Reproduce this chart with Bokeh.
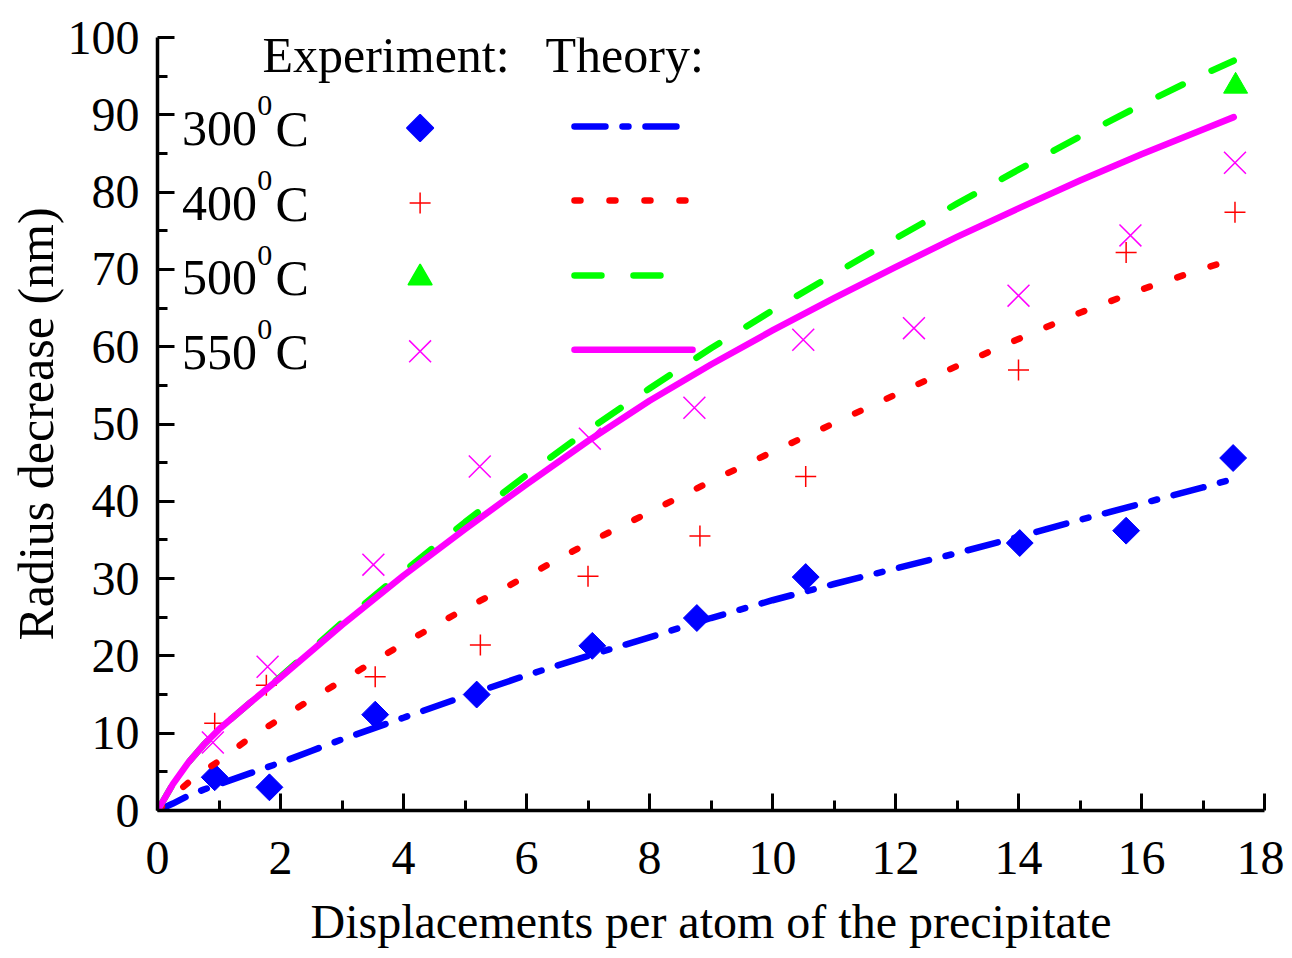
import numpy as np
from bokeh.plotting import figure
from bokeh.models import Range1d, FixedTicker
from bokeh.embed import file_html
from bokeh.resources import INLINE
from bokeh.core.properties import value

# ---------------- data ----------------
# theory curves
theory_x = [0, 0.25, 0.5, 0.75, 1, 1.5, 2, 2.5, 3, 4, 5, 6, 7, 8, 9, 10, 11, 12, 13, 14, 15, 16, 17, 17.5]
theory_300 = [0, 0.9, 1.9, 2.7, 3.4, 4.8, 6.2, 7.7, 9.2, 12.0, 14.8, 17.5, 20.0, 22.4, 24.9, 27.2, 29.3, 31.3, 33.3, 35.4, 37.6, 39.7, 41.8, 42.9]
theory_400 = [0, 1.9, 3.6, 5.1, 6.4, 9.4, 11.9, 14.4, 16.8, 21.6, 26.1, 30.3, 34.6, 38.6, 42.6, 46.4, 50.1, 53.8, 57.5, 61.0, 64.4, 67.4, 70.1, 71.3]
theory_500 = [0, 3.4, 6.2, 8.5, 10.5, 13.9, 17.3, 20.8, 24.3, 30.9, 37.3, 43.4, 49.2, 54.6, 59.8, 64.7, 69.4, 74.0, 78.5, 82.9, 87.2, 91.3, 95.2, 97.0]
theory_550 = [0, 3.4, 6.2, 8.5, 10.5, 13.9, 17.2, 20.6, 24.0, 30.4, 36.4, 42.2, 47.8, 53.0, 57.7, 62.1, 66.3, 70.3, 74.2, 77.9, 81.5, 84.9, 88.1, 89.7]

# experimental points
exp300_x = [0.93, 1.82, 3.54, 5.19, 7.07, 8.77, 10.54, 14.02, 15.75, 17.49]
exp300_y = [4.3, 3.0, 12.4, 15.0, 21.3, 24.9, 30.2, 34.6, 36.2, 45.6]
exp400_x = [0.93, 1.77, 3.54, 5.25, 7.0, 8.82, 10.54, 14.0, 15.75, 17.52]
exp400_y = [11.3, 16.2, 17.3, 21.4, 30.3, 35.5, 43.2, 57.0, 72.2, 77.4]
exp500_x = [17.53]
exp500_y = [93.7]
exp550_x = [0.9, 1.79, 3.51, 5.24, 7.03, 8.73, 10.5, 12.3, 14.0, 15.82, 17.52]
exp550_y = [8.8, 18.6, 31.8, 44.5, 48.1, 52.1, 60.9, 62.4, 66.6, 74.4, 83.8]

temps = ["300", "400", "500", "550"]
x_ticks = list(range(0, 19, 2))
x_minor = list(range(1, 18, 2))
y_ticks = list(range(0, 101, 10))
y_minor = list(range(5, 100, 10))

FONT = "Liberation Serif"
BLUE, RED, GREEN, MAGENTA = "#0000ff", "#ff0000", "#00ff00", "#ff00ff"

p = figure(width=1284, height=950, x_range=Range1d(0, 18), y_range=Range1d(0, 100),
           output_backend="svg", toolbar_location=None,
           min_border_left=157, min_border_right=20, min_border_top=37, min_border_bottom=134)
p.outline_line_color = None
p.xgrid.visible = False
p.ygrid.visible = False
p.background_fill_color = "white"

p.xaxis.ticker = FixedTicker(ticks=x_ticks, minor_ticks=x_minor)
p.yaxis.ticker = FixedTicker(ticks=y_ticks, minor_ticks=y_minor)
for ax in (p.xaxis[0], p.yaxis[0]):
    ax.axis_line_width = 3.5
    ax.axis_line_color = "black"
    ax.major_tick_line_width = 3
    ax.minor_tick_line_width = 3
    ax.major_tick_in = 17
    ax.major_tick_out = 0
    ax.minor_tick_in = 10
    ax.minor_tick_out = 0
    ax.major_label_text_font = FONT
    ax.major_label_text_font_size = "48px"
    ax.major_label_text_color = "black"
    ax.axis_label_text_font = FONT
    ax.axis_label_text_font_style = "normal"
    ax.axis_label_text_color = "black"
p.xaxis.major_label_standoff = 31
p.yaxis.major_label_standoff = 18
p.xaxis.axis_label = "Displacements per atom of the precipitate"
p.xaxis.axis_label_text_font_size = "48px"
p.xaxis.axis_label_standoff = 18
p.yaxis.axis_label = "Radius decrease (nm)"
p.yaxis.axis_label_text_font_size = "50px"
p.yaxis.axis_label_standoff = 1

# experimental markers
p.scatter(exp300_x, exp300_y, marker="square", angle=np.pi / 4, size=19, fill_color=BLUE, line_color=BLUE)
p.scatter(exp400_x, exp400_y, marker="cross", size=21, line_color=RED, line_width=1.5)
p.scatter(exp500_x, exp500_y, marker="triangle", size=24, fill_color=GREEN, line_color=GREEN)
p.scatter(exp550_x, exp550_y, marker="x", size=31, line_color=MAGENTA, line_width=1.5)

# theory lines
LW = 6.5
styles = [
    (theory_300, BLUE, "31 17 6 17"),
    (theory_400, RED, "6 29"),
    (theory_500, GREEN, "27 32"),
    (theory_550, MAGENTA, "solid"),
]
for ys, col, dash in styles:
    p.line(theory_x, ys, line_color=col, line_width=LW, line_dash=dash, line_cap="round", line_join="round")

# ---------------- legend (in-plot text) ----------------
p.text([1.707], [97.7], text=["Experiment:"], text_font=value(FONT), text_font_size="50px",
       text_baseline="alphabetic", text_align="left", text_color="black")
p.text([6.31], [97.7], text=["Theory:"], text_font=value(FONT), text_font_size="50px",
       text_baseline="alphabetic", text_align="left", text_color="black")

row_y = [88.2, 78.5, 68.9, 59.3]
marker_y = [88.3, 78.6, 68.9, 59.4]
line_y = [88.5, 78.9, 69.2, 59.6]
line_end = [8.52, 8.65, 8.18, 8.70]
markers = [("square", np.pi / 4, 19, BLUE, BLUE), ("cross", 0, 21, None, RED),
           ("triangle", 0, 24, GREEN, GREEN), ("x", 0, 31, None, MAGENTA)]
for i, t in enumerate(temps):
    p.text([0.40], [row_y[i]], text=[t], text_font=value(FONT), text_font_size="50px",
           text_baseline="alphabetic", text_align="left", text_color="black")
    p.text([1.62], [row_y[i] + 2.95], text=["0"], text_font=value(FONT), text_font_size="30px",
           text_baseline="alphabetic", text_align="left", text_color="black")
    p.text([1.92], [row_y[i]], text=["C"], text_font=value(FONT), text_font_size="50px",
           text_baseline="alphabetic", text_align="left", text_color="black")
    mk, ang, sz, fc, lc = markers[i]
    p.scatter([4.27], [marker_y[i]], marker=mk, angle=ang, size=sz,
              fill_color=fc, line_color=lc, line_width=1.5)
    ys, col, dash = styles[i]
    p.line([6.78, line_end[i]], [line_y[i], line_y[i]], line_color=col, line_width=LW,
           line_dash=dash, line_cap="round")

open("out.html", "w").write(file_html(p, INLINE))
